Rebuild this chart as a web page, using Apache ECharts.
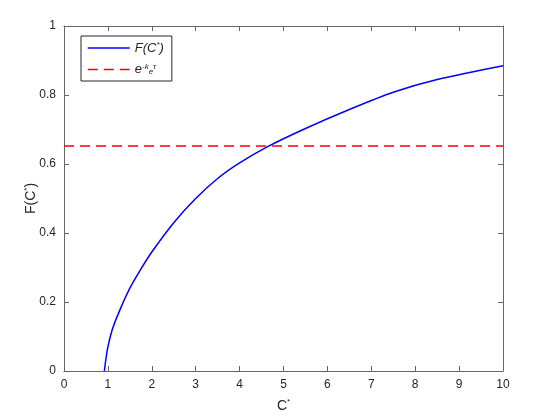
<!DOCTYPE html>
<html>
<head>
<meta charset="utf-8">
<script src="https://cdn.jsdelivr.net/npm/echarts@6/dist/echarts.min.js"></script>
<style>
html, body { margin: 0; padding: 0; background: #fff; }
#chart { width: 534px; height: 418px; }
</style>
</head>
<body>
<div id="chart"></div>
<script>
// values
var curveX = [0.92, 0.95, 1.0, 1.1, 1.25, 1.5, 1.75, 2.0, 2.5, 3.0, 3.5, 4.0, 4.65, 5.5, 6.5, 7.5, 8.5, 10];
var curveY = [0, 0.03, 0.07, 0.12, 0.17, 0.24, 0.295, 0.345, 0.43, 0.5, 0.558, 0.603, 0.651, 0.703, 0.758, 0.808, 0.845, 0.885];
var thresholdX = [0, 10];
var thresholdY = [0.652, 0.652];
var xTicks = [0, 10, 1];   // min, max, interval
var yTicks = [0, 1, 0.2];

function pairs(xs, ys) {
  var out = [];
  for (var i = 0; i < xs.length; i++) out.push([xs[i], ys[i]]);
  return out;
}

var font = 'Liberation Sans, Arial, sans-serif';
var axisCol = '#666';
var txtCol = '#262626';

function axisBase(pos, showLabels) {
  return {
    type: 'value',
    position: pos,
    nameMoveOverlap: false,
    axisLine: { show: true, onZero: false, lineStyle: { color: axisCol, width: 1 } },
    axisTick: { show: true, inside: true, length: 5, lineStyle: { color: axisCol } },
    axisLabel: { show: showLabels, color: txtCol, fontFamily: font, fontSize: 12, margin: 8 },
    splitLine: { show: false }
  };
}

var xMain = axisBase('bottom', true);
xMain.min = xTicks[0]; xMain.max = xTicks[1]; xMain.interval = xTicks[2];
xMain.name = '{n|C}{sup|*}';
xMain.nameLocation = 'middle';
xMain.nameGap = 27;
xMain.nameTextStyle = {
  color: txtCol, fontFamily: font,
  rich: {
    n: { fontSize: 14, fontFamily: font, color: txtCol },
    sup: { fontSize: 8, fontFamily: font, color: txtCol, padding: [0, 0, 8, 0] }
  }
};
var xTop = axisBase('top', false);
xTop.min = xTicks[0]; xTop.max = xTicks[1]; xTop.interval = xTicks[2];

var yMain = axisBase('left', true);
yMain.min = yTicks[0]; yMain.max = yTicks[1]; yMain.interval = yTicks[2];
yMain.name = '{n|F(C}{sup|*}{n|)}';
yMain.nameLocation = 'middle';
yMain.nameGap = 25;
yMain.nameRotate = 90;
yMain.nameTextStyle = xMain.nameTextStyle;
var yRight = axisBase('right', false);
yRight.min = yTicks[0]; yRight.max = yTicks[1]; yRight.interval = yTicks[2];

var legendRich = {
  i: { fontSize: 13, fontFamily: font, fontStyle: 'italic', color: txtCol },
  sup: { fontSize: 8, fontFamily: font, fontStyle: 'italic', color: txtCol, padding: [0, 0, 6, 0] },
  sub: { fontSize: 8, fontFamily: font, fontStyle: 'italic', color: txtCol, padding: [5, 0, 0, 0] }
};

var myChart = echarts.init(document.getElementById('chart'), null, { renderer: 'canvas' });
var option = {
  backgroundColor: '#fff',
  animation: false,
  grid: { left: 64, right: 31, top: 26, bottom: 44 },
  legend: {
    orient: 'vertical',
    left: 81,
    top: 36,
    data: ['F', 'E'],
    itemWidth: 42,
    itemHeight: 10,
    itemGap: 8,
    padding: [5, 8, 5, 6],
    borderColor: '#262626',
    borderWidth: 1,
    backgroundColor: '#fff',
    itemStyle: { opacity: 0 },
    lineStyle: { width: 1.5 },
    textStyle: { rich: legendRich },
    formatter: function (name) {
      if (name === 'F') return '{i|F(C}{sup|*}{i|)}';
      return '{i|e}{sup|-k}{sub|e}{sup|τ}';
    }
  },
  xAxis: [xMain, xTop],
  yAxis: [yMain, yRight],
  series: [
    {
      name: 'F',
      type: 'line',
      data: pairs(curveX, curveY),
      smooth: 0.3,
      symbol: 'none',
      lineStyle: { color: '#0000ff', width: 1.5 },
      itemStyle: { color: '#0000ff' }
    },
    {
      name: 'E',
      type: 'line',
      data: pairs(thresholdX, thresholdY),
      symbol: 'none',
      lineStyle: { color: '#ff0000', width: 1.5, type: [10, 6] },
      itemStyle: { color: '#ff0000' }
    }
  ]
};
myChart.setOption(option);
</script>
</body>
</html>
